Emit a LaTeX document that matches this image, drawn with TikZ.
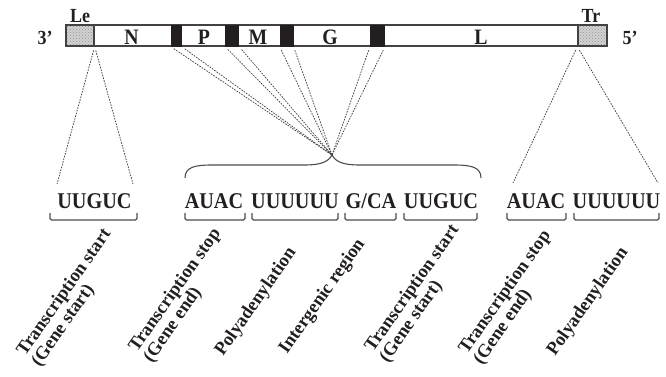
\documentclass[tikz,border=0pt]{standalone}
\usepackage{fontspec}
\setmainfont{Liberation Serif}
\newfontfamily\stretchfont{Liberation Serif}[FakeStretch=0.9]
\usetikzlibrary{patterns}
\definecolor{ink}{HTML}{231F20}
\tikzset{
  box/.style={draw=ink!85, line width=1.3pt, fill=white, inner sep=0pt, minimum height=21pt},
  hatch/.style={draw=ink!85, line width=1.3pt, inner sep=0pt, minimum height=21pt,
    preaction={fill=gray!35}, pattern=crosshatch dots, pattern color=gray!85},
  blk/.style={draw=ink, fill=ink, line width=1pt, inner sep=0pt, minimum height=21pt},
  gene/.style={font=\stretchfont\bfseries\fontsize{22}{24}\selectfont, text=ink, inner sep=0pt, anchor=base},
  endlab/.style={font=\stretchfont\bfseries\fontsize{20}{22}\selectfont, text=ink, inner sep=0pt, anchor=base},
  seq/.style={font=\stretchfont\bfseries\fontsize{22.5}{24}\selectfont, text=ink, inner sep=0pt, anchor=base},
  lab/.style={font=\bfseries\fontsize{18.5}{20}\selectfont, text=ink, inner sep=0pt, anchor=base west, rotate=55},
  fan/.style={draw=ink!85, line width=0.75pt, dash pattern=on 1.6pt off 1.2pt, shorten <=4pt},
  brk/.style={draw=ink!80, line width=1.2pt, rounded corners=1.5pt},
  bigbrace/.style={draw=ink!80, line width=1.1pt}
}
\begin{document}
\begin{tikzpicture}[x=1pt,y=-1pt]
\useasboundingbox (0,0) rectangle (666,376);
% genome bar
\node[box, minimum width=541pt] (bar) at (336.5,35.5) {};
\node[hatch, minimum width=28pt] (le) at (80,35.5) {};
\node[hatch, minimum width=29pt] (tr) at (592.5,35.5) {};
\node[blk, minimum width=10pt] (b1) at (176,35.5) {};
\node[blk, minimum width=13pt] (b2) at (232,35.5) {};
\node[blk, minimum width=13pt] (b3) at (286.5,35.5) {};
\node[blk, minimum width=14pt] (b4) at (377.5,35.5) {};
% gene letters
\node[gene] (gN) at (131.5,44) {N};
\node[gene] (gP) at (204,44) {P};
\node[gene] (gM) at (258,44) {M};
\node[gene] (gG) at (330,44) {G};
\node[gene] (gL) at (481,44) {L};
% end labels
\node[endlab] (tLe) at (80,22) {Le};
\node[endlab] (tTr) at (591,22) {Tr};
\node[endlab] (t3) at (45,44) {3’};
\node[endlab] (t5) at (630,44) {5’};
% fan of dashed lines to the brace tip
\coordinate (hub) at (332,155);
\draw[fan] (b1.south west) -- (hub);
\draw[fan] (b1.south east) -- (hub);
\draw[fan] (b2.south west) -- (hub);
\draw[fan] (b2.south east) -- (hub);
\draw[fan] (b3.south west) -- (hub);
\draw[fan] (b3.south east) -- (hub);
\draw[fan] (b4.south west) -- (hub);
\draw[fan] (b4.south east) -- (hub);
% leader and trailer
\coordinate (leL) at (57,184);
\coordinate (leR) at (133,184);
\coordinate (trL) at (513,183);
\coordinate (trR) at (658,183);
\draw[fan] (le.south east) -- (leL);
\draw[fan] (le.south east) -- (leR);
\draw[fan] (tr.south west) -- (trL);
\draw[fan] (tr.south west) -- (trR);
% big brace
\draw[bigbrace] (185,178) .. controls (185,167) and (195,165) .. (212,165)
  -- (304,165) .. controls (321,165) and (328,162) .. (hub)
  .. controls (336,162) and (343,165) .. (360,165)
  -- (454,165) .. controls (471,165) and (481,167) .. (481,178);
% sequences
\node[seq] (s1) at (94.5,208) {UUGUC};
\node[seq] (s2) at (214,208) {AUAC};
\node[seq] (s3) at (295,208) {UUUUUU};
\node[seq] (s4) at (371,208) {G/CA};
\node[seq] (s5) at (441,208) {UUGUC};
\node[seq] (s6) at (536,208) {AUAC};
\node[seq] (s7) at (616.5,208) {UUUUUU};
% small brackets
\draw[brk] (50,213) -- (50,220) -- (137,220) -- (137,213);
\draw[brk] (185,213) -- (185,220) -- (245,220) -- (245,213);
\draw[brk] (252,213) -- (252,220) -- (338,220) -- (338,213);
\draw[brk] (345,213) -- (345,220) -- (396,220) -- (396,213);
\draw[brk] (404,213) -- (404,220) -- (477,220) -- (477,213);
\draw[brk] (507,213) -- (507,220) -- (566,220) -- (566,213);
\draw[brk] (574,213) -- (574,220) -- (659,220) -- (659,213);
% rotated labels
\node[lab] (l1a) at (25,357) {Transcription start};
\node[lab] (l1b) at (39.7,367.3) {(Gene start)};
\node[lab] (l2a) at (137,353) {Transcription stop};
\node[lab] (l2b) at (151.7,363.3) {(Gene end)};
\node[lab] (l3) at (223,357) {Polyadenylation};
\node[lab] (l4) at (287,355) {Intergenic region};
\node[lab] (l5a) at (373,353) {Transcription start};
\node[lab] (l5b) at (387.7,363.3) {(Gene start)};
\node[lab] (l6a) at (467,355) {Transcription stop};
\node[lab] (l6b) at (481.7,365.3) {(Gene end)};
\node[lab] (l7) at (555,357) {Polyadenylation};
\end{tikzpicture}
\end{document}
